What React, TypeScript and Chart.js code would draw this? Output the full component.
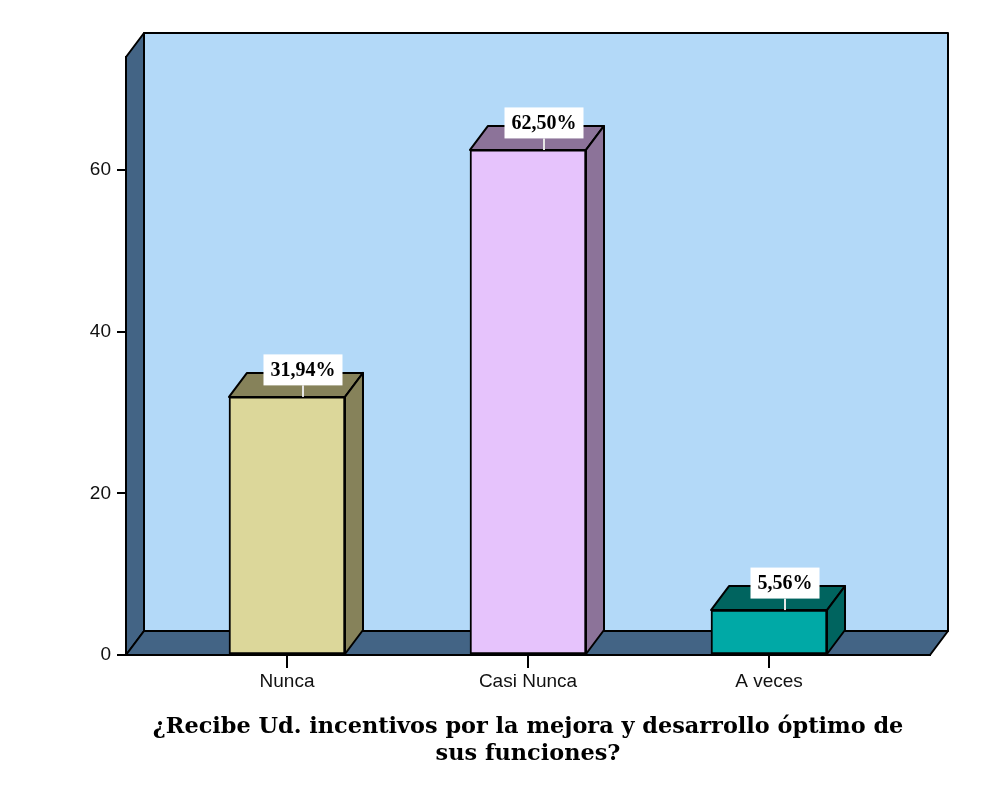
import React, { useEffect, useRef } from 'react';
import { Chart, registerables } from 'chart.js';

Chart.register(...registerables);

const categories = ['Nunca', 'Casi Nunca', 'A veces'];
const percents = [31.94, 62.5, 5.56];
const percentLabels = ['31,94%', '62,50%', '5,56%'];
const yTicks = [0, 20, 40, 60];
const titleLines = ['¿Recibe Ud. incentivos por la mejora y desarrollo óptimo de', 'sus funciones?'];
const frontColors = ['#DCD79A', '#E6C3FC', '#00A9A6'];
const shadeColors = ['#86825A', '#8C7399', '#00645F'];

const DX = 18;
const DY = 24;

const threeDPlugin = {
  id: 'threeD',
  beforeDraw(chart: any) {
    const { ctx, chartArea } = chart;
    const { left, right, top, bottom } = chartArea;
    ctx.save();
    ctx.fillStyle = '#ffffff';
    ctx.fillRect(0, 0, chart.width, chart.height);
    ctx.lineWidth = 2;
    ctx.strokeStyle = '#000';
    ctx.lineJoin = 'round';
    // back wall
    ctx.fillStyle = '#B3D9F8';
    ctx.beginPath();
    ctx.rect(left + DX, top - DY, right - left, bottom - top);
    ctx.fill();
    ctx.stroke();
    // left wall
    ctx.fillStyle = '#436485';
    ctx.beginPath();
    ctx.moveTo(left, top);
    ctx.lineTo(left + DX, top - DY);
    ctx.lineTo(left + DX, bottom - DY);
    ctx.lineTo(left, bottom);
    ctx.closePath();
    ctx.fill();
    ctx.stroke();
    // floor
    ctx.beginPath();
    ctx.moveTo(left, bottom);
    ctx.lineTo(left + DX, bottom - DY);
    ctx.lineTo(right + DX, bottom - DY);
    ctx.lineTo(right, bottom);
    ctx.closePath();
    ctx.fill();
    ctx.stroke();
    ctx.restore();
  },
  afterDatasetsDraw(chart: any) {
    const { ctx } = chart;
    const meta = chart.getDatasetMeta(0);
    ctx.save();
    ctx.lineWidth = 2;
    ctx.strokeStyle = '#000';
    ctx.lineJoin = 'round';
    meta.data.forEach((bar: any, i: number) => {
      const { x, y, base, width } = bar.getProps(['x', 'y', 'base', 'width'], true);
      const l = x - width / 2;
      const r = x + width / 2;
      const t = y;
      const b = base;
      ctx.fillStyle = shadeColors[i];
      // top face
      ctx.beginPath();
      ctx.moveTo(l, t);
      ctx.lineTo(l + DX, t - DY);
      ctx.lineTo(r + DX, t - DY);
      ctx.lineTo(r, t);
      ctx.closePath();
      ctx.fill();
      ctx.stroke();
      // side face
      ctx.beginPath();
      ctx.moveTo(r, t);
      ctx.lineTo(r + DX, t - DY);
      ctx.lineTo(r + DX, b - DY);
      ctx.lineTo(r, b);
      ctx.closePath();
      ctx.fill();
      ctx.stroke();
    });
    // value labels
    ctx.font = 'bold 20px "Liberation Serif", serif';
    ctx.textAlign = 'center';
    ctx.textBaseline = 'middle';
    meta.data.forEach((bar: any, i: number) => {
      const { x, y } = bar.getProps(['x', 'y'], true);
      const cx = x + 16;
      const cy = y - 27;
      const text = percentLabels[i];
      const w = ctx.measureText(text).width + 14;
      const h = 31;
      ctx.strokeStyle = '#e6e6e6';
      ctx.lineWidth = 2;
      ctx.beginPath();
      ctx.moveTo(cx, cy + h / 2);
      ctx.lineTo(cx, y);
      ctx.stroke();
      ctx.fillStyle = '#ffffff';
      ctx.fillRect(cx - w / 2, cy - h / 2, w, h);
      ctx.fillStyle = '#000';
      ctx.fillText(text, cx, cy + 1);
    });
    ctx.restore();
  },
};

export default function App() {
  const canvasRef = useRef<HTMLCanvasElement | null>(null);

  useEffect(() => {
    if (!canvasRef.current) return;
    const chart = new Chart(canvasRef.current, {
      type: 'bar',
      data: {
        datasets: [
          {
            data: percents.map((v, i) => ({ x: i, y: v })),
            backgroundColor: frontColors,
            borderColor: '#000',
            borderWidth: 2,
            borderSkipped: false,
            barThickness: 116,
          } as any,
        ],
      },
      options: {
        responsive: false,
        animation: false,
        layout: { padding: { top: 57, right: 74, left: 0, bottom: 0 } },
        plugins: {
          legend: { display: false },
          tooltip: { enabled: false },
        },
        scales: {
          x: {
            type: 'linear',
            min: -0.668,
            max: 2.668,
            offset: false,
            afterBuildTicks: (scale: any) => {
              scale.ticks = categories.map((_, i) => ({ value: i }));
            },
            afterFit: (scale: any) => {
              scale.height = 130;
            },
            grid: {
              offset: false,
              drawOnChartArea: false,
              drawTicks: true,
              tickLength: 13,
              color: '#000',
              lineWidth: 2,
            },
            border: { display: true, color: '#000', width: 2 },
            ticks: {
              autoSkip: false,
              maxRotation: 0,
              padding: 2,
              color: '#111',
              font: { family: '"Liberation Sans", Arial, sans-serif', size: 19 },
              callback: (v: any) => categories[Number(v)] ?? '',
            },
            title: {
              display: true,
              text: titleLines,
              color: '#000',
              padding: { top: 0, bottom: 17 },
              font: { family: '"DejaVu Serif", serif', size: 22.4, weight: 'bold', lineHeight: '27px' },
            },
          } as any,
          y: {
            type: 'linear',
            min: 0,
            max: 74,
            afterBuildTicks: (scale: any) => {
              scale.ticks = yTicks.map((v) => ({ value: v }));
            },
            afterFit: (scale: any) => {
              scale.width = 126;
            },
            grid: {
              drawOnChartArea: false,
              drawTicks: true,
              tickLength: 9,
              color: '#000',
              lineWidth: 2,
            },
            border: { display: true, color: '#000', width: 2 },
            ticks: {
              padding: 6,
              color: '#111',
              font: { family: '"Liberation Sans", Arial, sans-serif', size: 19 },
            },
          } as any,
        },
      },
      plugins: [threeDPlugin],
    });
    return () => chart.destroy();
  }, []);

  return (
    <div style={{ position: 'absolute', left: 0, top: 0, width: 1004, height: 785, background: '#fff' }}>
      <canvas ref={canvasRef} width={1004} height={785} style={{ display: 'block' }} />
    </div>
  );
}
